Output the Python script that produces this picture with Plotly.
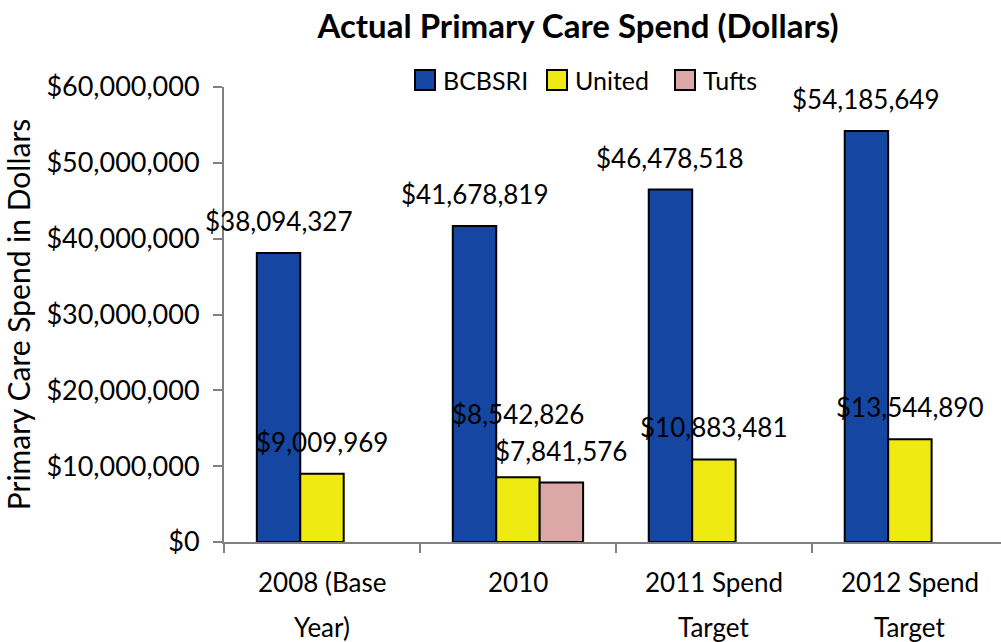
import plotly.graph_objects as go

categories = ["2008 (Base Year)", "2010", "2011 Spend Target", "2012 Spend Target"]
category_lines = [["2008 (Base", "Year)"], ["2010"], ["2011 Spend", "Target"], ["2012 Spend", "Target"]]
series_names = ["BCBSRI", "United", "Tufts"]
bcbsri = [38094327, 41678819, 46478518, 54185649]
united = [9009969, 8542826, 10883481, 13544890]
tufts = [None, 7841576, None, None]
colors = ["#1446A2", "#EEEA12", "#DBA7A7"]
y_ticks = [0, 10000000, 20000000, 30000000, 40000000, 50000000, 60000000]
y_tick_labels = ["$0", "$10,000,000", "$20,000,000", "$30,000,000", "$40,000,000", "$50,000,000", "$60,000,000"]

FONT = "Lato"
fig = go.Figure()
all_series = [bcbsri, united, tufts]
for name, vals, col in zip(series_names, all_series, colors):
    fig.add_trace(go.Bar(
        name=name, x=categories, y=vals,
        marker=dict(color=col, line=dict(color="black", width=2)),
    ))

L, R, T, B = 224, 0, 87, 100
W, H = 1001, 642
PW, PH = W - L - R, H - T - B
xrange = [-0.5, 3.465]
cat_px = PW / (xrange[1] - xrange[0])
bargap = 0.335
bar_px = cat_px * (1 - bargap) / 3

# extra lift (px) for labels that were moved up in the original to avoid overlap
label_extra_lift = {("United", 1): 31}

annotations = []
shapes = []
# data labels
for i, (name, vals) in enumerate(zip(series_names, all_series)):
    for j, v in enumerate(vals):
        if v is None:
            continue
        annotations.append(dict(
            x=j, y=v, xref="x", yref="y", text=f"${v:,.0f}", showarrow=False,
            xshift=(i - 1) * bar_px, yshift=32 + label_extra_lift.get((name, j), 0),
            yanchor="middle", xanchor="center",
            font=dict(family=FONT, size=26, color="black"),
        ))
# category labels (two lines with wide spacing)
for j, lines in enumerate(category_lines):
    for k, line in enumerate(lines):
        annotations.append(dict(
            x=j, y=0, xref="x", yref="paper", text=line, showarrow=False,
            yshift=-(40 + 45 * k), yanchor="middle", xanchor="center",
            font=dict(family=FONT, size=26, color="black"),
        ))
# legend built from series names/colours
legend_sq_x = [415, 547, 675]
legend_y = 80
for name, col, x0 in zip(series_names, colors, legend_sq_x):
    shapes.append(dict(type="rect", xref="paper", yref="paper",
                       x0=(x0 - L) / PW, x1=(x0 + 20 - L) / PW,
                       y0=(H - B - (legend_y + 10)) / PH, y1=(H - B - (legend_y - 10)) / PH,
                       fillcolor=col, line=dict(color="black", width=2)))
    annotations.append(dict(
        x=(x0 + 26 - L) / PW, y=(H - B - legend_y) / PH, xref="paper", yref="paper",
        text=name, showarrow=False, xanchor="left", yanchor="middle",
        font=dict(family=FONT, size=25, color="black"),
    ))

fig.update_layout(
    width=W, height=H,
    margin=dict(l=L, r=R, t=T, b=B),
    paper_bgcolor="white", plot_bgcolor="white",
    barmode="group", bargap=bargap, bargroupgap=0,
    title=dict(text="<b>Actual Primary Care Spend (Dollars)</b>", x=578 / W, xanchor="center",
               y=1 - 26 / H, yanchor="middle", font=dict(family=FONT, size=33, color="black")),
    annotations=annotations,
    shapes=shapes,
    showlegend=False,
)
fig.update_xaxes(
    type="category", range=xrange, showline=True, linecolor="#808080", linewidth=2,
    ticks="outside", tickson="boundaries", ticklen=9, tickcolor="#808080", tickwidth=2,
    showticklabels=False, showgrid=False,
)
fig.update_yaxes(
    range=[0, 60000000], tickvals=y_ticks, ticktext=y_tick_labels,
    showline=True, linecolor="#808080", linewidth=2,
    ticks="outside", ticklen=9, tickcolor="#808080", tickwidth=2,
    tickfont=dict(family=FONT, size=27, color="black"), showgrid=False, zeroline=False,
    ticklabelstandoff=8,
    title=dict(text="Primary Care Spend in Dollars", font=dict(family=FONT, size=30, color="black"), standoff=8),
)
fig.write_html("out.html")
